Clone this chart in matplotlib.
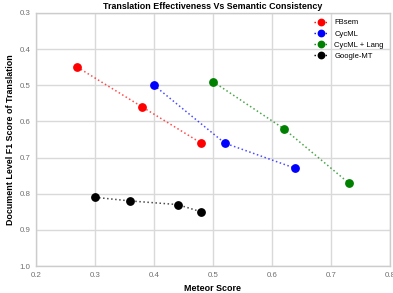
import matplotlib
matplotlib.use("Agg")
import matplotlib.pyplot as plt

plt.rcParams['font.family'] = ['Liberation Sans', 'DejaVu Sans']

fbsem_x = [0.27, 0.38, 0.48]
fbsem_y = [0.45, 0.56, 0.66]
cycml_x = [0.40, 0.52, 0.64]
cycml_y = [0.50, 0.66, 0.73]
lang_x = [0.50, 0.62, 0.73]
lang_y = [0.49, 0.62, 0.77]
gmt_x = [0.30, 0.36, 0.44, 0.48]
gmt_y = [0.81, 0.82, 0.83, 0.85]

xticks = [0.2, 0.3, 0.4, 0.5, 0.6, 0.7, 0.8]
yticks = [0.3, 0.4, 0.5, 0.6, 0.7, 0.8, 0.9, 1.0]

fig = plt.figure(figsize=(3.93, 2.93), dpi=100)
ax = fig.add_axes([0.0916, 0.092, 0.9004, 0.864])
ax.set_facecolor('white')

series = [
    (fbsem_x, fbsem_y, 'red', 'FBsem'),
    (cycml_x, cycml_y, 'blue', 'CycML'),
    (lang_x, lang_y, 'green', 'CycML + Lang'),
    (gmt_x, gmt_y, 'black', 'Google-MT'),
]
for x, y, c, lab in series:
    ax.plot(x, y, linestyle=':', color=c, linewidth=1.1, alpha=0.7, zorder=2)
    ax.plot(x, y, linestyle='none', marker='o', color=c, markersize=5.3, zorder=3)
    ax.plot([], [], linestyle=':', marker='o', color=c, markersize=4.6,
            linewidth=1.0, alpha=1.0, label=lab)

ax.set_xlim(0.2, 0.8)
ax.set_ylim(1.0, 0.3)
ax.set_xticks(xticks)
ax.set_yticks(yticks)
ax.set_xticklabels([f"{v:.1f}" for v in xticks])
ax.set_yticklabels([f"{v:.1f}" for v in yticks])
ax.tick_params(axis='both', labelsize=5.7, colors='#707070', length=0, pad=4)
ax.grid(True, color='#d9d9d9', linewidth=1.0, zorder=0)
ax.set_axisbelow(True)
for s in ax.spines.values():
    s.set_color('#cccccc')
    s.set_linewidth(1.0)

ax.set_title('Translation Effectiveness Vs Semantic Consistency', fontsize=6.4, fontweight='bold', pad=3)
ax.set_xlabel('Meteor Score', fontsize=6.4, fontweight='bold', labelpad=4)
ax.set_ylabel('Document Level F1 Score of Translation', fontsize=6.4, fontweight='bold', labelpad=3)

leg = ax.legend(loc='upper right', fontsize=5.5, frameon=False, handlelength=1.8,
                labelspacing=0.5, borderaxespad=0.4, handletextpad=0.8)

fig.savefig('out.png', dpi=100)
